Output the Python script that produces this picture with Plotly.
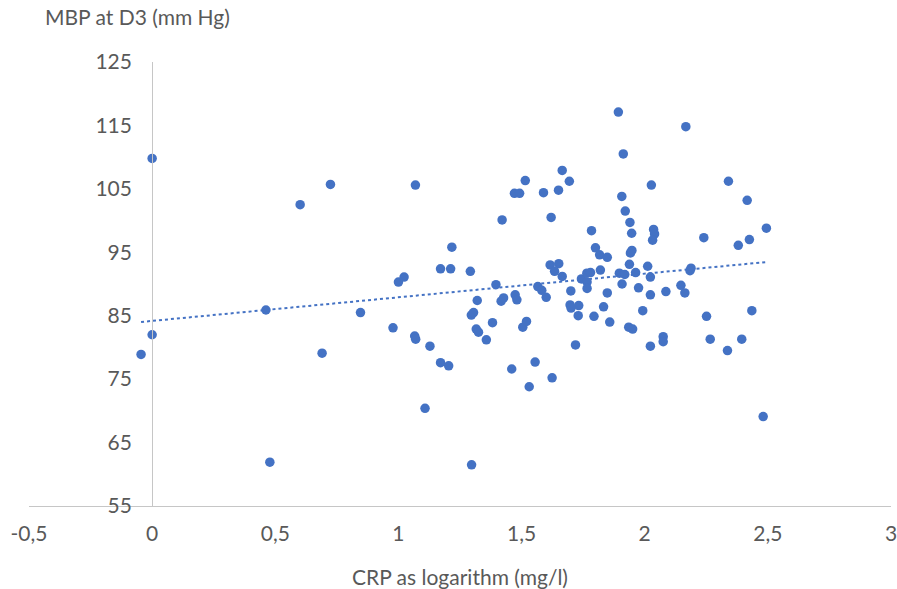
import numpy as np
import plotly.graph_objects as go

# CRP as logarithm (mg/l)
crp_log = [
    -0.045, 0.0, 0.0, 0.462, 0.478, 0.601, 0.69, 0.724, 0.846, 0.978,
    1.0, 1.023, 1.066, 1.07, 1.069, 1.108, 1.128, 1.171, 1.204, 1.171,
    1.212, 1.217, 1.292, 1.296, 1.305, 1.297, 1.316, 1.325, 1.32, 1.357,
    1.382, 1.396, 1.417, 1.427, 1.421, 1.46, 1.471, 1.492, 1.474, 1.481,
    1.505, 1.52, 1.515, 1.531, 1.555, 1.566, 1.582, 1.6, 1.589, 1.616,
    1.651, 1.634, 1.62, 1.624, 1.65, 1.665, 1.665, 1.694, 1.7, 1.697,
    1.732, 1.701, 1.73, 1.719, 1.743, 1.765, 1.78, 1.766, 1.766, 1.784,
    1.794, 1.8, 1.817, 1.82, 1.833, 1.848, 1.848, 1.858, 1.893, 1.897,
    1.907, 1.908, 1.913, 1.919, 1.921, 1.935, 1.938, 1.94, 1.942, 1.948,
    1.947, 1.951, 1.963, 1.975, 1.992, 2.012, 2.023, 2.023, 2.023, 2.027,
    2.036, 2.04, 2.032, 2.075, 2.075, 2.086, 2.147, 2.163, 2.167, 2.188,
    2.184, 2.24, 2.251, 2.266, 2.336, 2.34, 2.38, 2.394, 2.416, 2.425,
    2.435, 2.481, 2.494,
]

# MBP at D3 (mm Hg)
mbp_d3 = [
    78.9, 109.8, 82.0, 85.9, 61.9, 102.5, 79.1, 105.7, 85.5, 83.1,
    90.3, 91.1, 81.8, 81.3, 105.6, 70.4, 80.2, 77.6, 77.1, 92.4,
    92.4, 95.8, 92.0, 85.1, 85.5, 61.5, 82.9, 82.4, 87.4, 81.2,
    83.9, 89.9, 87.3, 87.8, 100.1, 76.6, 104.3, 104.3, 88.3, 87.5,
    83.2, 84.1, 106.3, 73.8, 77.7, 89.6, 89.0, 87.9, 104.4, 93.0,
    93.2, 92.0, 100.5, 75.2, 104.8, 107.9, 91.2, 106.2, 88.9, 86.7,
    86.6, 86.2, 85.0, 80.4, 90.8, 91.7, 91.8, 90.3, 89.3, 98.4,
    84.9, 95.7, 94.6, 92.2, 86.4, 94.2, 88.6, 84.0, 117.1, 91.7,
    103.8, 90.0, 110.5, 91.5, 101.5, 83.2, 93.1, 99.7, 94.9, 95.3,
    98.0, 82.9, 91.8, 89.4, 85.8, 92.8, 91.1, 88.3, 80.2, 105.6,
    98.6, 97.9, 96.9, 81.7, 80.9, 88.8, 89.8, 88.6, 114.8, 92.5,
    92.1, 97.3, 84.9, 81.3, 79.5, 106.2, 96.1, 81.3, 103.2, 97.0,
    85.8, 69.1, 98.8,
]

x_ticks = [-0.5, 0, 0.5, 1, 1.5, 2, 2.5, 3]
x_tick_labels = ["-0,5", "0", "0,5", "1", "1,5", "2", "2,5", "3"]
y_ticks = [55, 65, 75, 85, 95, 105, 115, 125]

BLUE = "#4472C4"
TEXT = "#595959"
AXIS = "#C6C6C6"
FONT = "Lato"
FS = 21

xa = np.array(crp_log)
ya = np.array(mbp_d3)
slope, intercept = np.polyfit(xa, ya, 1)
x_fit = np.array([xa.min(), xa.max()])
y_fit = slope * x_fit + intercept

fig = go.Figure()
fig.add_trace(go.Scatter(
    x=x_fit, y=y_fit, mode="lines",
    line=dict(color=BLUE, width=2, dash="dot"),
    hoverinfo="skip", showlegend=False,
))
fig.add_trace(go.Scatter(
    x=crp_log, y=mbp_d3, mode="markers",
    marker=dict(color=BLUE, size=9.5, line=dict(width=0)),
    showlegend=False,
))

x_min, x_max = -0.5, 3.0
fig.update_layout(
    width=897, height=589,
    margin=dict(l=29, r=6, t=62, b=83),
    paper_bgcolor="white", plot_bgcolor="white",
    font=dict(family=FONT, color=TEXT, size=FS),
    xaxis=dict(
        range=[x_min, x_max], tickvals=x_ticks, ticktext=x_tick_labels,
        showgrid=False, zeroline=False, showline=True, linecolor=AXIS, linewidth=1,
        ticks="", automargin=False, ticklabeloverflow="allow", ticklabelstandoff=9,
        tickfont=dict(family=FONT, size=FS, color=TEXT),
        title=dict(text="CRP as logarithm (mg/l)", font=dict(family=FONT, size=FS, color=TEXT), standoff=28),
    ),
    yaxis=dict(
        range=[55, 125], tickvals=y_ticks,
        showgrid=False, zeroline=False, showline=True, linecolor=AXIS, linewidth=1,
        ticks="", anchor="free", position=(0 - x_min) / (x_max - x_min),
        automargin=False, ticklabelstandoff=16, ticklabeloverflow="allow",
        tickfont=dict(family=FONT, size=FS, color=TEXT),
    ),
    annotations=[dict(
        text="MBP at D3 (mm Hg)", xref="paper", yref="paper",
        x=0.016, y=1.0, xanchor="left", yanchor="bottom", yshift=31,
        showarrow=False, font=dict(family=FONT, size=FS, color=TEXT),
    )],
)

fig.write_html(
    "out.html",
    config={"displayModeBar": False},
    post_script="document.body.style.margin='0px';document.body.style.overflow='hidden';",
)
